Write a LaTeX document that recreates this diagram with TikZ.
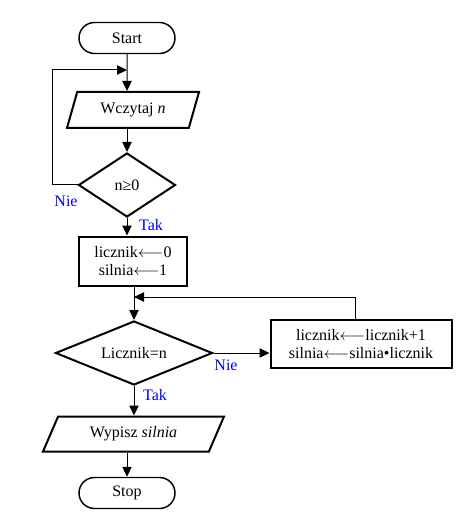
\documentclass[tikz,border=0pt]{standalone}
\usepackage{fontspec}
\setmainfont{Liberation Serif}
\usetikzlibrary{shapes.geometric,shapes.misc,arrows.meta}

\newcommand{\assign}{\ensuremath{\longleftarrow}}

\tikzset{
	terminal/.style={draw, line width=1.1pt, rounded rectangle, minimum width=72pt, minimum height=23.25pt, inner sep=0pt},
	io/.style={draw, line width=1.5pt, trapezium, trapezium stretches body=true, inner sep=0pt},
	decision/.style={draw, line width=1.5pt, diamond, inner sep=0pt},
	process/.style={draw, line width=1.5pt, rectangle, align=center, inner sep=0pt},
	flow/.style={line width=0.75pt, -{Triangle[length=7.5pt, width=7pt]}},
	answer/.style={text=blue, inner sep=0pt}
}

\begin{document}
\begin{tikzpicture}[x=0.75pt, y=-0.75pt, font=\fontsize{12pt}{13.5pt}\selectfont]
		\useasboundingbox (0, 0) rectangle (455, 513);
		% blocks
		\node[terminal] (start) at (127, 38) {Start};
		\node[io, trapezium left angle=54, trapezium right angle=126, minimum width=99pt, minimum height=27pt] (read) at (133, 110) {Wczytaj \textit{n}};
		\node[decision, aspect=1.5, minimum width=72.75pt, minimum height=48pt] (cond) at (127, 185) {n≥0};
		\node[process, minimum width=81pt, minimum height=36.75pt] (init) at (133, 261) {licznik\assign0\\silnia\assign1};
		\node[decision, aspect=2.45, minimum width=117.75pt, minimum height=48pt] (test) at (134, 353) {Licznik=n};
		\node[process, minimum width=135.75pt, minimum height=36pt] (incr) at (361, 344) {licznik\assign licznik+1\\silnia\assign silnia•licznik};
		\node[io, trapezium left angle=44, trapezium right angle=136, minimum width=135.75pt, minimum height=26.25pt] (write) at (133.5, 434) {Wypisz \textit{silnia}};
		\node[terminal] (stop) at (127, 493) {Stop};
		\coordinate (j1) at (127, 70);
		\coordinate (j2) at (134, 297);
		% connectors
		\draw[flow] (start) -- (start |- read.north);
		\draw[flow] (cond |- read.south) -- (cond.north);
		\draw[flow] (cond.west) -- ++(-25, 0) |- (j1);
		\draw[flow] (cond.south) -- (cond.south |- init.north);
		\draw[flow] (init.south -| test.north) -- (test.north);
		\draw[flow] (test.east) -- (test.east -| incr.west);
		\draw[flow] ([xshift=-4.5pt]incr.north) |- (j2);
		\draw[flow] (test.south) -- (test.south |- write.north);
		\draw[flow] (stop.north |- write.south) -- (stop.north);
		% labels
		\node[answer] (nie1) at (66, 201) {Nie};
		\node[answer] (tak1) at (151, 225) {Tak};
		\node[answer] (nie2) at (226, 365) {Nie};
		\node[answer] (tak2) at (155, 395) {Tak};
	\end{tikzpicture}
\end{document}
